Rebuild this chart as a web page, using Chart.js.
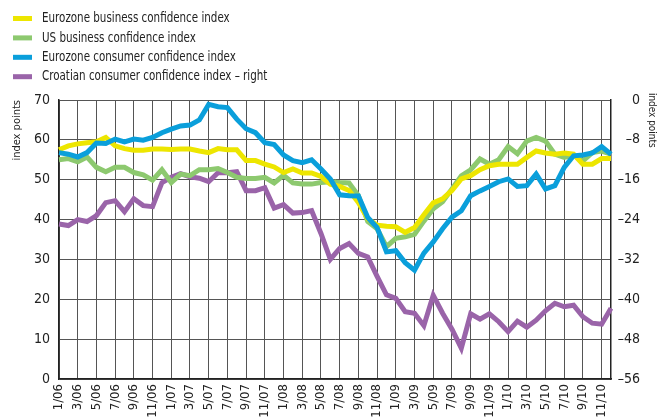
<!DOCTYPE html>
<html>
<head>
<meta charset="utf-8">
<script src="https://cdn.jsdelivr.net/npm/chart.js@4.4.1/dist/chart.umd.min.js"></script>
<style>
  html, body { margin: 0; padding: 0; background: #fff; overflow: hidden; }
  #wrap { position: relative; width: 659px; height: 418px; }
</style>
</head>
<body>
<div id="wrap"><canvas id="grafico"></canvas></div>
<script>
// Meses (1/06 - 12/10)
const meses = [
  '1/06','2/06','3/06','4/06','5/06','6/06','7/06','8/06','9/06','10/06','11/06','12/06',
  '1/07','2/07','3/07','4/07','5/07','6/07','7/07','8/07','9/07','10/07','11/07','12/07',
  '1/08','2/08','3/08','4/08','5/08','6/08','7/08','8/08','9/08','10/08','11/08','12/08',
  '1/09','2/09','3/09','4/09','5/09','6/09','7/09','8/09','9/09','10/09','11/09','12/09',
  '1/10','2/10','3/10','4/10','5/10','6/10','7/10','8/10','9/10','10/10','11/10','12/10'
];

// Series
const ezNegocios = [57.5, 58.5, 59, 59.3, 59.5, 60.6, 58.5, 57.8, 57.4, 57.4,
  57.7, 57.7, 57.6, 57.7, 57.7, 57.2, 56.8, 57.8, 57.5, 57.5,
  54.8, 54.8, 53.9, 53.2, 51.8, 52.7, 51.7, 51.7, 50.8, 48.9,
  48.3, 47.3, 44.3, 40.2, 38.6, 38.3, 38.2, 36.8, 38, 41.2,
  44.2, 45.2, 47.3, 50.2, 51, 52.5, 53.5, 53.9, 53.9, 53.9,
  55.6, 57.2, 56.7, 56.4, 56.7, 56.4, 53.9, 53.9, 55.3, 55.3];

const usNegocios = [55, 55.3, 54.5, 55.7, 53.1, 52, 53.1, 53.1, 51.8, 51.2,
  49.9, 52.5, 49.3, 51.4, 51, 52.5, 52.5, 52.8, 51.8, 50.6,
  50.3, 50.3, 50.6, 49.2, 51.1, 49.2, 48.9, 48.9, 49.3, 49.5,
  49.3, 49.2, 46, 39.5, 37.7, 33.2, 35.3, 35.7, 36.3, 39.6,
  42.7, 44.5, 47.7, 51, 52.5, 55.2, 53.9, 55, 58.3, 56.5,
  59.7, 60.6, 59.7, 56.4, 55.6, 56.2, 54.7, 56.8, 57.2, 56.4];

const ezConsumidores = [56.8, 56.4, 55.7, 56.8, 59.2, 59.1, 60.2, 59.5, 60.2, 59.9,
  60.6, 61.8, 62.7, 63.5, 63.7, 65, 68.9, 68.3, 68.1, 65.2,
  62.8, 61.8, 59.3, 58.8, 56.2, 54.8, 54.3, 55, 52.7, 50.2,
  46.2, 46, 45.9, 40.5, 38, 31.9, 32.2, 29.2, 27.3, 31.6,
  34.4, 37.7, 40.6, 42.2, 46, 47.2, 48.3, 49.5, 50.2, 48.3,
  48.5, 51.4, 47.7, 48.5, 53.1, 56, 56.2, 56.7, 58.3, 56.4];

// eje derecho
const hrConsumidores = [-24.9, -25.2, -24, -24.4, -23.2, -20.6, -20.2, -22.4, -19.8, -21.2,
  -21.4, -16.6, -15.5, -14.8, -15.4, -15.7, -16.4, -14.6, -14.6, -14.4,
  -18.2, -18.2, -17.6, -21.7, -21, -22.7, -22.6, -22.2, -26.8, -32,
  -29.8, -28.8, -30.8, -31.5, -35.4, -39.1, -39.8, -42.5, -42.8, -45.3,
  -39.2, -42.8, -46, -49.8, -42.9, -44, -42.9, -44.5, -46.5, -44.4,
  -45.6, -44.2, -42.3, -40.8, -41.5, -41.2, -43.5, -44.8, -45, -41.8];

const fuente = "'Liberation Sans Narrow', 'DejaVu Sans Condensed', 'Roboto Condensed', sans-serif";
const rejilla = '#555';

// leyenda vertical arriba a la izquierda + titulo del eje derecho
const leyenda = {
  id: 'leyenda',
  afterDraw(chart) {
    const ctx = chart.ctx;
    ctx.save();
    ctx.textBaseline = 'middle';
    chart.data.datasets.forEach((ds, i) => {
      const y = 18.5 + i * 19.4;
      ctx.fillStyle = ds.borderColor;
      ctx.fillRect(13, y - 2.5, 19, 5);
      ctx.save();
      ctx.translate(42, y);
      ctx.scale(0.82, 1);
      ctx.font = '14px ' + fuente;
      ctx.fillStyle = '#222';
      ctx.fillText(ds.label, 0, 0);
      ctx.restore();
    });
    // titulo eje derecho
    ctx.translate(652, 93);
    ctx.rotate(Math.PI / 2);
    ctx.scale(0.9, 1);
    ctx.font = '11px ' + fuente;
    ctx.fillStyle = '#222';
    ctx.textAlign = 'left';
    ctx.fillText('index points', 0, 0);
    ctx.restore();
  }
};

const ctx = document.getElementById('grafico').getContext('2d');
new Chart(ctx, {
  type: 'line',
  data: {
    labels: meses,
    datasets: [
      { label: 'Eurozone business confidence index', data: ezNegocios, borderColor: '#ede600', order: 2 },
      { label: 'US business confidence index', data: usNegocios, borderColor: '#8dc96f', order: 3 },
      { label: 'Eurozone consumer confidence index', data: ezConsumidores, borderColor: '#0a9fdb', order: 1 },
      { label: 'Croatian consumer confidence index \u2013 right', data: hrConsumidores, borderColor: '#9a64a9', yAxisID: 'y2', order: 4 }
    ]
  },
  options: {
    responsive: true,
    maintainAspectRatio: false,
    animation: false,
    layout: { padding: { top: 100, left: 0, right: 19, bottom: 0 } },
    elements: {
      line: { borderWidth: 5, tension: 0, borderJoinStyle: 'miter', fill: false },
      point: { radius: 0, hoverRadius: 0 }
    },
    plugins: { legend: { display: false }, tooltip: { enabled: false } },
    scales: {
      x: {
        offset: false,
        afterFit(s) { s.height = 39; },
        grid: { color: rejilla, drawTicks: false },
        border: { color: '#222', width: 1.5 },
        ticks: {
          autoSkip: false, minRotation: 90, maxRotation: 90, padding: 5,
          color: '#222', font: { family: fuente, size: 13 },
          callback(v, i) { return i % 2 === 0 ? meses[i] : null; }
        }
      },
      y: {
        position: 'left', min: 0, max: 70,
        afterFit(s) { s.width = 59; },
        grid: { color: rejilla, drawTicks: false },
        border: { color: '#222', width: 1.5 },
        ticks: { stepSize: 10, padding: 9, color: '#222', font: { family: fuente, size: 14 } },
        title: { display: true, text: 'index points', align: 'end', color: '#222',
                 font: { family: fuente, size: 11 }, padding: { top: 11, bottom: 0 } }
      },
      y2: {
        position: 'right', min: -56, max: 0,
        afterFit(s) { s.width = 29; },
        grid: { display: false, drawTicks: false },
        border: { color: '#222', width: 1.5 },
        ticks: {
          stepSize: 8, padding: 9, crossAlign: 'far', color: '#222', font: { family: fuente, size: 14 },
          callback(v) { return v < 0 ? '\u2013' + Math.abs(v) : v; }
        }
      }
    }
  },
  plugins: [leyenda]
});
</script>
</body>
</html>
